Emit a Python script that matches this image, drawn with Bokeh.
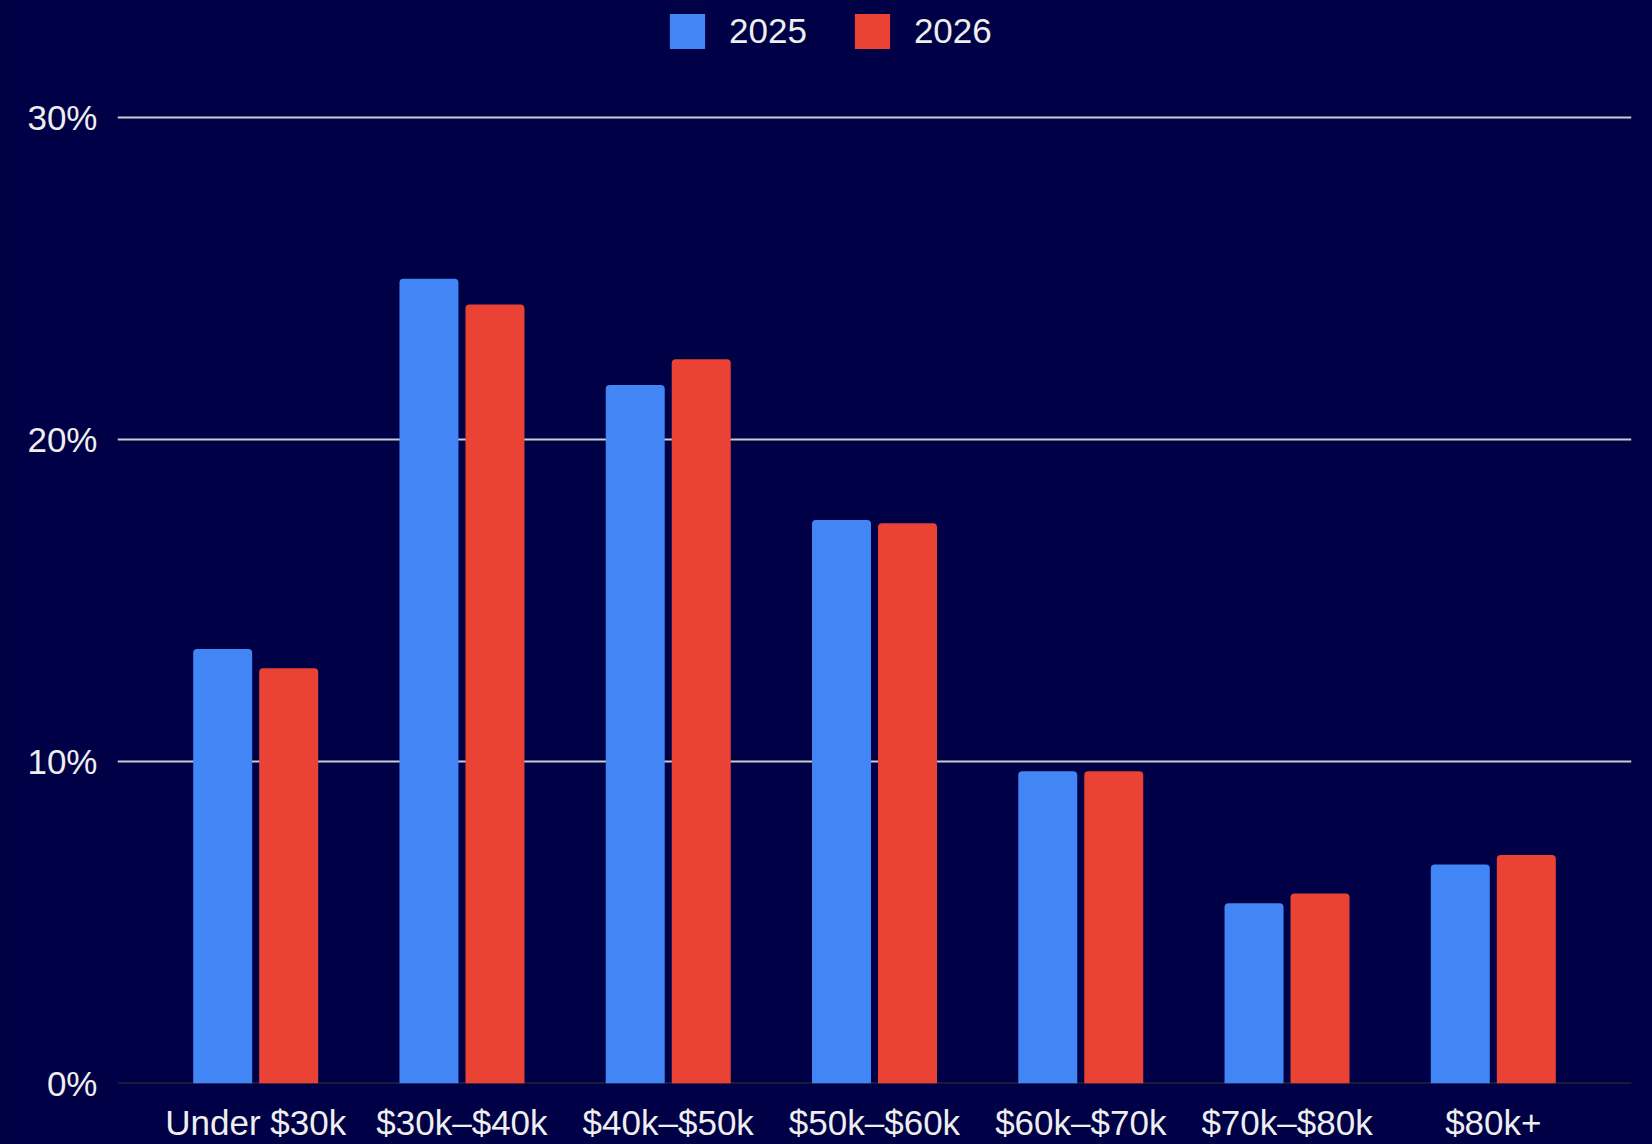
from bokeh.plotting import figure
from bokeh.models import (ColumnDataSource, FactorRange, Range1d, FixedTicker,
                          PrintfTickFormatter, Span, Legend)
from bokeh.transform import dodge
from bokeh.embed import file_html
from bokeh.resources import INLINE

categories = ["Under $30k", "$30k\u2013$40k", "$40k\u2013$50k", "$50k\u2013$60k",
              "$60k\u2013$70k", "$70k\u2013$80k", "$80k+"]
series_names = ["2025", "2026"]
values_2025 = [13.5, 25.0, 21.7, 17.5, 9.7, 5.6, 6.8]
values_2026 = [12.9, 24.2, 22.5, 17.4, 9.7, 5.9, 7.1]
y_ticks = [0, 10, 20, 30]

BG = "#000046"
BLUE = "#4285F4"
RED = "#EA4335"
TXT = "#eeeeee"
FONT = "Liberation Sans"

src = ColumnDataSource(dict(cat=categories, v2025=values_2025, v2026=values_2026))

x_range = FactorRange(factors=categories, range_padding=0.17, range_padding_units="absolute")
# top of the range leaves room for the legend inside the frame
p = figure(x_range=x_range, y_range=Range1d(0, 33.64), width=1652, height=1144,
           output_backend="svg", toolbar_location=None,
           min_border_left=117, min_border_right=21, min_border_top=0, min_border_bottom=60)
p.background_fill_color = BG
p.border_fill_color = BG
p.outline_line_color = None
p.styles = {"background-color": BG}

r1 = p.vbar(x=dodge("cat", -0.16, range=p.x_range), top="v2025", width=0.286, source=src,
            fill_color=BLUE, line_color=None, border_radius=(4, 4, 0, 0))
r2 = p.vbar(x=dodge("cat", 0.16, range=p.x_range), top="v2026", width=0.286, source=src,
            fill_color=RED, line_color=None, border_radius=(4, 4, 0, 0))

base = Span(location=0, dimension="width", line_color="#333333", line_width=2, level="underlay")
p.add_layout(base)

p.xgrid.grid_line_color = None
p.ygrid.ticker = FixedTicker(ticks=y_ticks[1:])
p.ygrid.grid_line_color = "#cccccc"
p.ygrid.grid_line_width = 2

p.yaxis.ticker = FixedTicker(ticks=y_ticks)
p.yaxis.formatter = PrintfTickFormatter(format="%d%%")
for ax in (p.xaxis[0], p.yaxis[0]):
    ax.axis_line_color = None
    ax.major_tick_line_color = None
    ax.minor_tick_line_color = None
    ax.major_tick_out = 0
    ax.major_tick_in = 0
    ax.major_label_text_color = TXT
    ax.major_label_text_font = FONT
    ax.major_label_text_font_size = "35px"
p.yaxis.major_label_standoff = 20
p.xaxis.major_label_standoff = 19

legend = Legend(items=[(series_names[0], [r1]), (series_names[1], [r2])],
                orientation="horizontal", location=(548, 1030),
                glyph_width=44, glyph_height=44, label_standoff=20, spacing=43,
                padding=0, margin=0, border_line_color=None, background_fill_alpha=0,
                label_text_font=FONT, label_text_font_size="35px", label_text_color=TXT)
p.add_layout(legend, "center")

html = file_html(p, INLINE)
html = html.replace("<body>", '<body style="margin:0;background:%s;">' % BG, 1)
open("out.html", "w").write(html)
